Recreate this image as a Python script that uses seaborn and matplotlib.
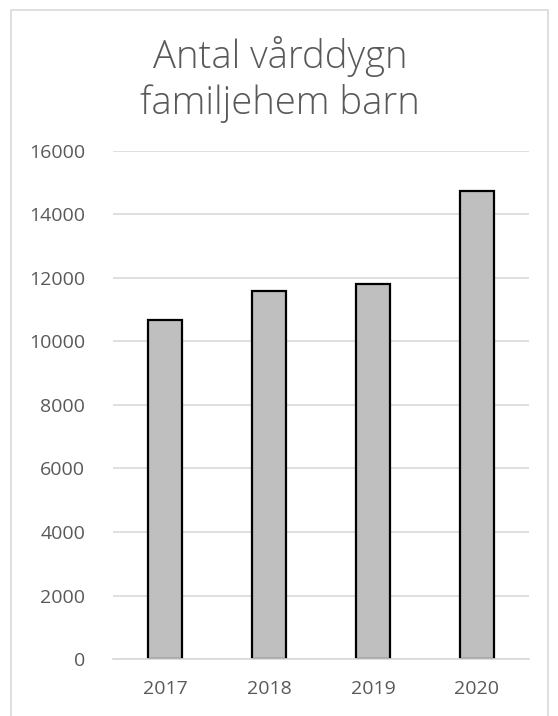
import matplotlib
matplotlib.use("Agg")
from matplotlib import pyplot as plt
from matplotlib.patches import Rectangle
import pandas as pd
import seaborn as sns

years = ['2017', '2018', '2019', '2020']
vardddygn = [10670, 11590, 11790, 14730]
title = 'Antal vårddygn\nfamiljehem barn'

df = pd.DataFrame({'year': years, 'dygn': vardddygn})

sns.set_style('white')
plt.rcParams['font.family'] = ['Open Sans', 'DejaVu Sans']

fig = plt.figure(figsize=(5.58, 7.16), dpi=100)
ax = fig.add_axes([0.2025, 0.0792, 0.7455, 0.7106])

sns.barplot(data=df, x='year', y='dygn', color='#bfbfbf', saturation=1,
            width=0.32, edgecolor='black', linewidth=1.6, ax=ax)

ax.set_ylim(0, 16000)
ax.set_xlim(-0.5, 3.5)
ax.set_yticks(range(0, 16001, 2000))
ax.yaxis.grid(True, color='#d9d9d9', linewidth=1.2)
ax.set_axisbelow(True)
for s in ['top', 'right', 'left']:
    ax.spines[s].set_visible(False)
ax.spines['bottom'].set_color('#d9d9d9')
ax.spines['bottom'].set_linewidth(1.2)
ax.tick_params(axis='y', length=0, pad=20, labelsize=14, labelcolor='#595959')
ax.tick_params(axis='x', length=0, pad=15, labelsize=14, labelcolor='#595959')
ax.set_xlabel('')
ax.set_ylabel('')

fig.text(0.502, 0.950, title, ha='center', va='top', fontsize=27.5,
         fontweight='light', color='#595959', linespacing=1.25)

fig.patches.append(Rectangle((11 / 558, -0.05), 537 / 558, 1 - 10 / 716 + 0.05,
                             transform=fig.transFigure, fill=False,
                             edgecolor='#d9d9d9', linewidth=1.2))

fig.savefig('out.png', dpi=100)
